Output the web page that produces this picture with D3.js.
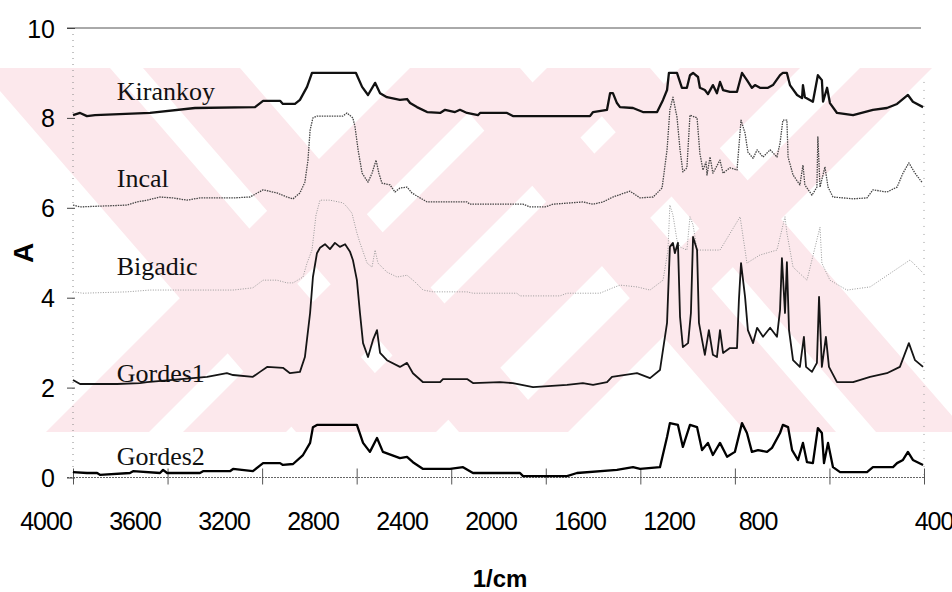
<!DOCTYPE html>
<html>
<head>
<meta charset="utf-8">
<script src="https://cdn.jsdelivr.net/npm/d3@7"></script>
<style>
    body { margin: 0; background: #fff; }
    .tick-num { font-family: "Liberation Sans", Arial, sans-serif; font-size: 25px; fill: #000; }
    .name { font-family: "Liberation Serif", "Times New Roman", serif; font-size: 26px; fill: #111; }
</style>
</head>
<body>
<svg id="chart" width="952" height="592"></svg>
<script>
// wavenumber axis (1/cm) and absorbance ticks
const waveTicks = [4000, 3600, 3200, 2800, 2400, 2000, 1600, 1200, 800, 400];
const absTicks = [0, 2, 4, 6, 8, 10];
const seriesNames = ["Kirankoy", "Incal", "Bigadic", "Gordes1", "Gordes2"];
// where each name sits (A value of its baseline)
const nameLevels = [8.40, 6.46, 4.50, 2.12, 0.28];

// spectra, [wavenumber, A]
const kirankoy = [[4000,8.06],[3970,8.11],[3941,8.04],[3907,8.06],[3674,8.11],[3484,8.22],[3230,8.24],[3196,8.38],[3124,8.38],[3112,8.31],[3061,8.31],[3040,8.40],[3010,8.69],[2989,9.00],[2803,9.00],[2777,8.69],[2752,8.51],[2722,8.78],[2701,8.55],[2672,8.46],[2617,8.40],[2587,8.42],[2574,8.33],[2545,8.24],[2502,8.13],[2447,8.11],[2426,8.18],[2384,8.13],[2363,8.18],[2333,8.11],[2287,8.06],[2278,8.11],[2164,8.11],[2139,8.04],[1813,8.04],[1800,8.13],[1741,8.18],[1728,8.55],[1716,8.55],[1699,8.33],[1686,8.24],[1631,8.22],[1589,8.13],[1529,8.13],[1504,8.40],[1487,8.62],[1479,9.00],[1445,9.00],[1424,8.67],[1403,8.67],[1390,8.95],[1377,9.00],[1356,8.91],[1348,8.67],[1327,8.62],[1314,8.53],[1293,8.73],[1276,8.55],[1263,8.80],[1250,8.62],[1221,8.58],[1191,8.58],[1170,9.00],[1149,8.84],[1128,8.67],[1115,8.73],[1094,8.67],[1060,8.67],[1039,8.73],[1009,8.95],[997,9.00],[980,9.00],[967,8.73],[937,8.51],[916,8.44],[912,8.73],[904,8.46],[870,8.36],[849,8.95],[832,8.84],[827,8.36],[810,8.67],[798,8.33],[768,8.11],[700,8.06],[616,8.18],[557,8.22],[514,8.31],[468,8.51],[447,8.36],[404,8.24]];

const incal = [[4000,6.06],[3970,6.02],[3772,6.06],[3729,6.13],[3687,6.17],[3632,6.24],[3577,6.22],[3518,6.17],[3463,6.22],[3323,6.22],[3251,6.24],[3196,6.40],[3137,6.33],[3095,6.24],[3069,6.20],[3040,6.33],[3019,6.57],[3006,7.06],[2997,7.73],[2985,8.00],[2968,8.04],[2858,8.04],[2841,8.11],[2816,8.00],[2807,7.80],[2794,7.29],[2777,6.77],[2752,6.57],[2735,6.77],[2718,7.06],[2706,6.77],[2693,6.55],[2659,6.51],[2638,6.35],[2617,6.44],[2587,6.46],[2566,6.33],[2532,6.22],[2502,6.13],[2333,6.13],[2321,6.08],[2096,6.08],[2067,6.02],[2003,6.02],[1969,6.08],[1843,6.13],[1800,6.08],[1758,6.13],[1716,6.24],[1644,6.37],[1601,6.22],[1546,6.24],[1508,6.44],[1487,7.29],[1475,8.18],[1462,8.46],[1445,8.02],[1432,7.29],[1420,6.80],[1403,6.89],[1390,8.06],[1360,8.00],[1348,7.21],[1335,6.84],[1322,7.02],[1318,6.73],[1305,7.13],[1293,6.77],[1263,7.06],[1250,6.77],[1221,6.89],[1191,6.84],[1174,7.95],[1157,7.66],[1145,7.24],[1123,7.10],[1106,7.29],[1081,7.13],[1051,7.29],[1022,7.13],[1009,7.44],[997,7.95],[980,7.95],[975,7.13],[954,6.73],[925,6.51],[912,6.95],[904,6.51],[874,6.28],[853,6.46],[849,7.58],[840,6.46],[819,6.91],[806,6.46],[785,6.24],[700,6.20],[641,6.22],[616,6.40],[557,6.35],[514,6.46],[489,6.77],[464,7.00],[438,6.77],[409,6.57]];

const bigadic = [[4000,4.13],[3958,4.10],[3772,4.13],[3674,4.17],[3323,4.17],[3239,4.22],[3196,4.39],[3137,4.39],[3095,4.33],[3069,4.33],[3027,4.46],[3010,4.77],[2989,5.06],[2972,5.84],[2955,6.17],[2913,6.17],[2858,6.11],[2841,6.02],[2820,5.88],[2799,5.44],[2786,5.22],[2756,4.77],[2735,4.68],[2722,5.06],[2710,4.77],[2672,4.57],[2629,4.46],[2587,4.50],[2553,4.35],[2519,4.17],[2477,4.13],[2333,4.13],[2308,4.10],[2122,4.10],[2109,4.04],[1940,4.04],[1910,4.10],[1771,4.10],[1716,4.22],[1686,4.28],[1614,4.24],[1559,4.17],[1504,4.39],[1483,5.06],[1475,6.06],[1462,5.84],[1445,5.28],[1432,5.13],[1403,5.06],[1390,5.80],[1377,5.62],[1360,5.06],[1263,5.06],[1178,5.80],[1157,5.06],[1149,4.77],[1094,4.95],[1022,5.06],[988,5.80],[980,5.44],[954,4.68],[895,4.39],[840,5.57],[832,4.77],[798,4.39],[726,4.17],[628,4.24],[459,4.84],[404,4.55]];

const gordes1 = [[4000,2.17],[3970,2.08],[3814,2.08],[3717,2.10],[3687,2.12],[3433,2.24],[3349,2.32],[3323,2.28],[3239,2.24],[3209,2.35],[3179,2.46],[3112,2.44],[3082,2.32],[3040,2.35],[3019,2.68],[2997,3.66],[2985,4.46],[2968,4.99],[2955,5.11],[2934,5.19],[2913,5.08],[2892,5.22],[2871,5.13],[2849,5.19],[2828,5.02],[2816,4.84],[2799,4.39],[2786,3.66],[2773,2.99],[2752,2.68],[2731,3.06],[2714,3.28],[2701,2.77],[2672,2.61],[2617,2.46],[2587,2.55],[2562,2.32],[2519,2.12],[2447,2.12],[2435,2.19],[2333,2.19],[2308,2.10],[2194,2.12],[2139,2.10],[2054,2.01],[1910,2.06],[1843,2.10],[1800,2.06],[1741,2.12],[1720,2.24],[1614,2.32],[1559,2.21],[1517,2.39],[1487,3.44],[1475,5.13],[1462,5.22],[1454,4.99],[1441,5.22],[1432,3.57],[1420,2.90],[1398,2.99],[1386,3.66],[1377,5.35],[1360,5.06],[1352,3.44],[1335,2.95],[1327,2.73],[1310,3.28],[1293,2.73],[1276,2.68],[1263,3.28],[1250,2.77],[1221,2.88],[1191,2.88],[1183,3.95],[1174,4.77],[1157,4.02],[1145,3.28],[1123,2.99],[1106,3.33],[1081,3.13],[1051,3.33],[1022,3.13],[1009,3.73],[1001,4.88],[988,3.66],[980,4.79],[971,3.28],[954,2.61],[925,2.46],[908,3.13],[899,2.46],[874,2.35],[853,2.55],[844,4.02],[832,2.46],[815,3.13],[802,2.46],[768,2.12],[700,2.12],[628,2.24],[557,2.32],[502,2.46],[464,2.99],[438,2.61],[404,2.46]];

const gordes2 = [[4000,0.12],[3941,0.10],[3898,0.10],[3886,0.06],[3759,0.10],[3746,0.14],[3632,0.10],[3619,0.17],[3602,0.10],[3463,0.10],[3450,0.14],[3336,0.14],[3323,0.19],[3239,0.14],[3196,0.32],[3124,0.32],[3112,0.28],[3069,0.30],[3027,0.50],[2997,0.77],[2985,1.12],[2968,1.17],[2799,1.17],[2773,0.77],[2744,0.57],[2714,0.88],[2689,0.57],[2617,0.43],[2587,0.46],[2562,0.34],[2519,0.19],[2405,0.19],[2350,0.23],[2308,0.10],[2109,0.10],[2096,0.03],[1910,0.03],[1868,0.10],[1699,0.17],[1631,0.23],[1601,0.19],[1517,0.23],[1487,0.90],[1475,1.21],[1441,1.17],[1420,0.68],[1390,1.17],[1360,1.12],[1339,0.61],[1314,0.77],[1293,0.50],[1263,0.77],[1233,0.46],[1200,0.57],[1170,1.21],[1149,0.99],[1128,0.57],[1102,0.61],[1064,0.57],[1043,0.66],[1009,0.99],[997,1.17],[975,1.12],[958,0.61],[933,0.39],[912,0.77],[895,0.34],[870,0.32],[849,1.10],[832,0.99],[823,0.32],[806,0.77],[785,0.23],[755,0.12],[641,0.12],[616,0.23],[531,0.23],[514,0.32],[489,0.39],[468,0.57],[447,0.39],[404,0.28]];

const spectra = [kirankoy, incal, bigadic, gordes1, gordes2];
const lineStyles = [
    {stroke: "#111", width: 2.3, dash: null},
    {stroke: "#454545", width: 1.3, dash: "1.5,1"},
    {stroke: "#9a9a9a", width: 1, dash: "1,1.5"},
    {stroke: "#151515", width: 1.8, dash: null},
    {stroke: "#000", width: 2.3, dash: null}
];

const svg = d3.select("#chart");
const x = d3.scaleLinear().domain([4000, 400]).range([73, 924]);
const y = d3.scaleLinear().domain([0, 10]).range([477.5, 28]);

// pink watermark of the scanned page: slanted strips inside a band
const bandTop = 68, bandBottom = 432;
const wm = svg.append("g");
wm.append("clipPath").attr("id", "wmclip")
    .append("rect").attr("x", 0).attr("y", bandTop).attr("width", 952).attr("height", bandBottom - bandTop);
const wg = wm.append("g").attr("clip-path", "url(#wmclip)");
// [left, right] at the band top, and horizontal drift to the band bottom
const strips = [
    {x0: -20, x1: 110, dx: 316}, {x0: 143, x1: 240, dx: 316},
    {x0: 430, x1: 520, dx: 316}, {x0: 560, x1: 650, dx: 316},
    {x0: 410, x1: 513, dx: -364}, {x0: 547, x1: 650, dx: -364},
    {x0: 680, x1: 800, dx: -364}, {x0: 860, x1: 932, dx: -364}
];
wg.selectAll("polygon")
    .data(strips)
    .enter()
    .append("polygon")
    .attr("points", function(s) {
        return [[s.x0, bandTop], [s.x1, bandTop], [s.x1 + s.dx, bandBottom], [s.x0 + s.dx, bandBottom]].join(" ");
    })
    .attr("fill", "#fce8ec");

// frame: top line at 10, dotted baseline and side lines
svg.append("line").attr("x1", 67).attr("x2", 921).attr("y1", y(10)).attr("y2", y(10))
    .attr("stroke", "#555").attr("stroke-width", 1);
svg.append("line").attr("x1", x(4000)).attr("x2", x(4000)).attr("y1", y(10)).attr("y2", y(0))
    .attr("stroke", "#888").attr("stroke-width", 1).attr("stroke-dasharray", "1,5");
svg.append("line").attr("x1", x(400)).attr("x2", x(400)).attr("y1", y(8.8)).attr("y2", y(0))
    .attr("stroke", "#999").attr("stroke-width", 1).attr("stroke-dasharray", "1,7");

const xAxis = d3.axisBottom(x).tickValues(waveTicks).tickSize(7).tickFormat("");
const gx = svg.append("g").attr("transform", "translate(0," + y(0) + ")").call(xAxis);
gx.select(".domain").attr("d", "M67,0H924").attr("stroke", "#666").attr("stroke-dasharray", "2,1");
gx.selectAll(".tick line").attr("y1", -9).attr("stroke", "#555");

const yAxis = d3.axisLeft(y).tickValues(absTicks).tickSize(6).tickPadding(12);
const gy = svg.append("g").attr("transform", "translate(" + x(4000) + ",0)").call(yAxis);
gy.select(".domain").remove();
gy.selectAll(".tick line").attr("x2", -6).attr("x1", 2).attr("stroke", "#444");
gy.selectAll(".tick text").attr("class", "tick-num").attr("font-family", null).attr("font-size", null).attr("dy", "0.36em");

// tick numbers: in the scan they drift left of their ticks; 400 sits at the end
const labelX = d3.scaleLinear().domain([4000, 800]).range([46, 758]);
svg.append("g").selectAll("text")
    .data(waveTicks)
    .enter()
    .append("text")
    .attr("class", "tick-num")
    .attr("x", function(d) { return d === 400 ? x(d) + 10 : labelX(d); })
    .attr("y", 530)
    .attr("text-anchor", "middle")
    .attr("letter-spacing", "-1px")
    .text(function(d) { return d; });

// spectra
const line = d3.line()
    .x(function(d) { return x(d[0]); })
    .y(function(d) { return y(d[1]); });
svg.append("g").selectAll("path")
    .data(spectra)
    .enter()
    .append("path")
    .attr("d", line)
    .attr("fill", "none")
    .attr("stroke", function(d, i) { return lineStyles[i].stroke; })
    .attr("stroke-width", function(d, i) { return lineStyles[i].width; })
    .attr("stroke-dasharray", function(d, i) { return lineStyles[i].dash; })
    .attr("stroke-linejoin", "round");

// sample names
svg.append("g").selectAll("text")
    .data(seriesNames)
    .enter()
    .append("text")
    .attr("class", "name")
    .attr("x", x(3815))
    .attr("y", function(d, i) { return y(nameLevels[i]); })
    .text(function(d) { return d; });

// axis titles
svg.append("text")
    .attr("transform", "translate(33,253) rotate(-90)")
    .attr("text-anchor", "middle")
    .style("font-family", "'Liberation Sans', Arial, sans-serif")
    .style("font-weight", "bold")
    .style("font-size", "28px")
    .text("A");
svg.append("text")
    .attr("x", 500).attr("y", 587)
    .attr("text-anchor", "middle")
    .style("font-family", "'Liberation Sans', Arial, sans-serif")
    .style("font-weight", "bold")
    .style("font-size", "24px")
    .text("1/cm");
</script>
</body>
</html>
